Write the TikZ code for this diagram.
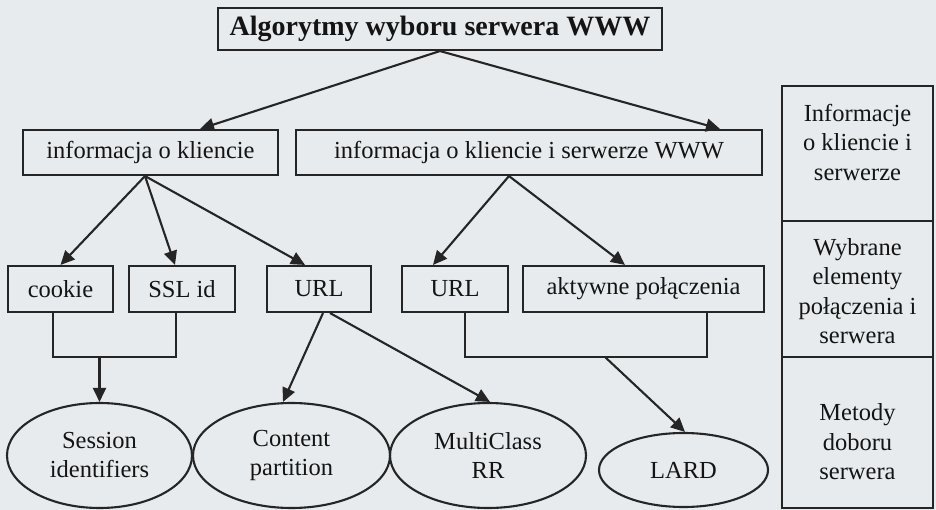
\documentclass[tikz,border=0pt]{standalone}
\usepackage{fontspec}
\setmainfont{Liberation Serif}
\usetikzlibrary{arrows.meta,shapes.geometric,calc}
\definecolor{bgc}{HTML}{E7EBEE}
\definecolor{inkc}{HTML}{252525}
\definecolor{txtc}{HTML}{141414}
\begin{document}
\begin{tikzpicture}[x=1pt,y=-1pt,
  base/.style={draw=inkc,line width=2.1pt,text=txtc,inner sep=0pt,font=\fontsize{24.5}{29}\selectfont},
  boxn/.style={base,rectangle},
  ell/.style={base,ellipse,align=center},
  lbl/.style={text=txtc,inner sep=0pt,align=center,font=\fontsize{24.5}{29.5}\selectfont},
  cell/.style={draw=inkc,line width=2.1pt,rectangle,inner sep=0pt,minimum width=151pt},
  ln/.style={draw=inkc,line width=2.1pt},
  arr/.style={ln,-{Triangle[length=14pt,width=13pt]}}]
\fill[bgc] (0,0) rectangle (936,510);
\useasboundingbox (0,0) rectangle (936,510);
% title
\node[boxn,minimum width=444pt,minimum height=42pt,font=\fontsize{28}{32}\selectfont\bfseries] (title) at (440,29) {Algorytmy wyboru serwera WWW};
% second level
\node[boxn,minimum width=255pt,minimum height=45pt] (ik) at (150.5,152.5) {informacja o kliencie};
\node[boxn,minimum width=466pt,minimum height=45pt] (iks) at (529,152.5) {informacja o kliencie i serwerze WWW};
% third level
\node[boxn,minimum width=105pt,minimum height=46pt] (cookie) at (60.5,289) {cookie};
\node[boxn,minimum width=106pt,minimum height=46pt] (ssl) at (182,289) {SSL id};
\node[boxn,minimum width=104pt,minimum height=46pt] (urla) at (319,289) {URL};
\node[boxn,minimum width=106pt,minimum height=46pt] (urlb) at (455,289) {URL};
\node[boxn,minimum width=241pt,minimum height=46pt] (akt) at (643.5,289) {aktywne połączenia};
% methods
\node[ell,minimum width=185pt,minimum height=105pt] (sess) at (99.5,455.5) {Session\\identifiers};
\node[ell,minimum width=197pt,minimum height=105pt] (cont) at (291.5,455.5) {Content\\partition};
\node[ell,minimum width=196pt,minimum height=105pt] (multi) at (488,455.5) {MultiClass\\RR};
\node[ell,minimum width=169pt,minimum height=74pt] (lard) at (683.5,470) {LARD};
% junctions
\coordinate (ja) at (99.5,357);
\coordinate (jb) at (605,357);
% connectors
\draw[arr] (title.south) -- ([xshift=49.5pt]ik.north);
\draw[arr] (title.south) -- ([xshift=191pt]iks.north);
\draw[arr] ([xshift=-5.5pt]ik.south) -- (cookie.north);
\draw[arr] ([xshift=-5.5pt]ik.south) -- ([xshift=-7pt]ssl.north);
\draw[arr] ([xshift=-5.5pt]ik.south) -- ([xshift=-14pt]urla.north);
\draw[arr] ([xshift=-20pt]iks.south) -- ([xshift=-22pt]urlb.north);
\draw[arr] ([xshift=-20pt]iks.south) -- ([xshift=-18.5pt]akt.north);
\draw[ln] ([xshift=-7.5pt]cookie.south) |- (ja) -| ([xshift=-6pt]ssl.south);
\draw[arr] (ja) -- (sess.north);
\draw[arr] ([xshift=4pt]urla.south) -- ([xshift=-8.5pt]cont.north);
\draw[arr] ([xshift=11pt]urla.south) -- ([xshift=2pt]multi.north);
\draw[ln] ([xshift=10pt]urlb.south) |- (jb) -| ([xshift=63.5pt]akt.south);
\draw[arr] (jb) -- ([xshift=1.5pt]lard.north);
% legend panel
\node[cell,minimum height=135pt] (c1) at (857.5,153.5) {};
\node[cell,minimum height=136pt] (c2) at (857.5,289) {};
\node[cell,minimum height=151pt] (c3) at (857.5,432.5) {};
\node[lbl] (t1) at (857.5,142) {Informacje\\o kliencie i\\serwerze};
\node[lbl] (t2) at (857.5,291) {Wybrane\\elementy\\połączenia i\\serwera};
\node[lbl] (t3) at (857.5,442) {Metody\\doboru\\serwera};
\end{tikzpicture}
\end{document}
